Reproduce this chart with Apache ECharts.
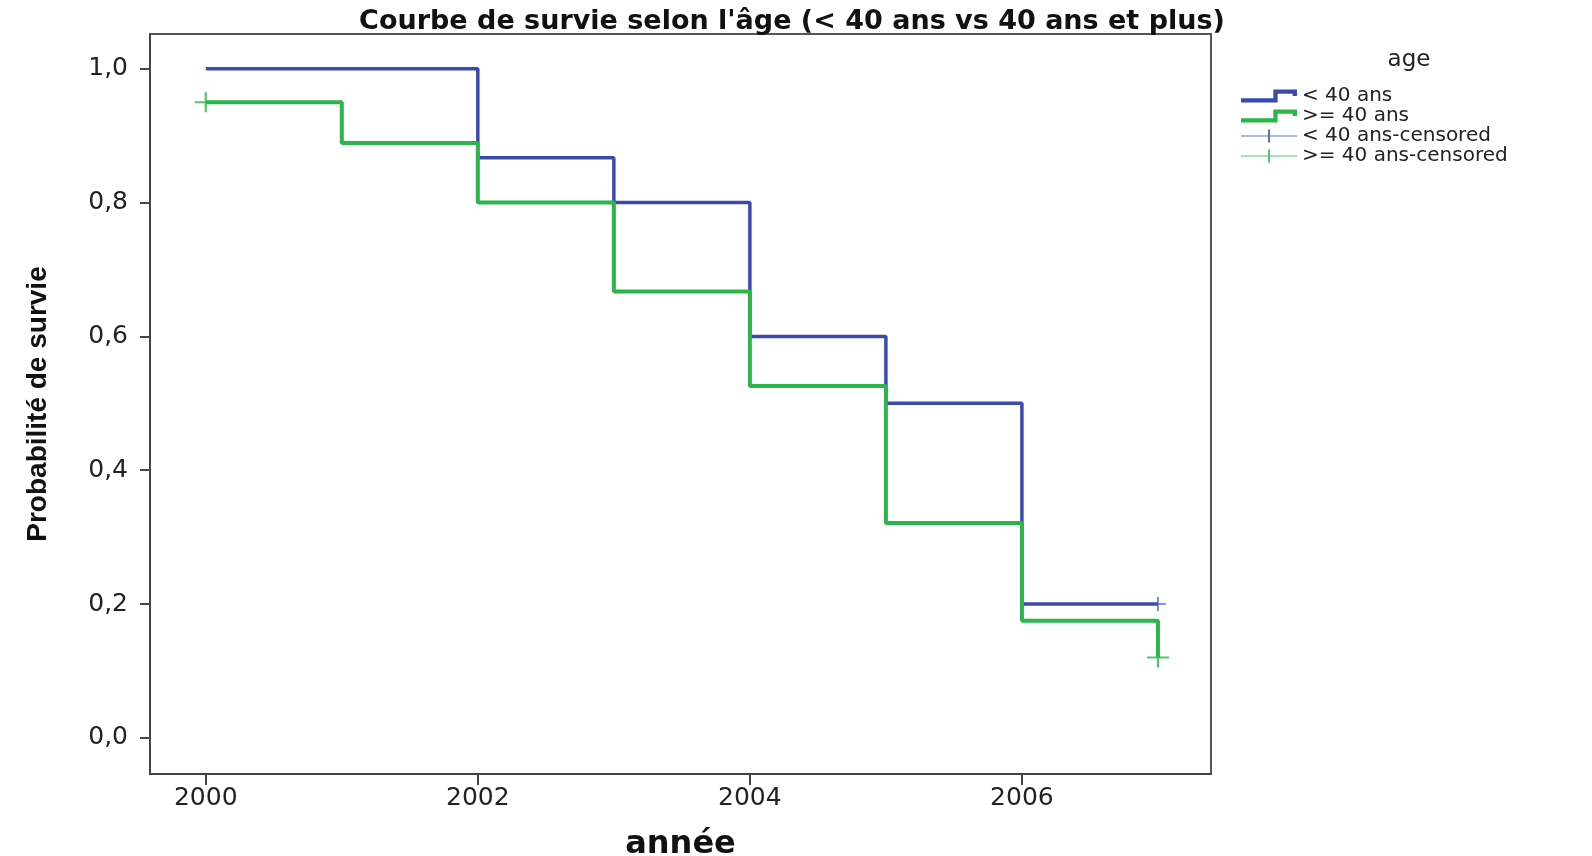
<!DOCTYPE html>
<html><head><meta charset="utf-8">
<script src="https://cdn.jsdelivr.net/npm/echarts@6/dist/echarts.min.js"></script>
<style>html,body{margin:0;padding:0;background:#fff}#c{width:1592px;height:856px}</style>
</head><body><div id="c"></div>
<script>
const titleText = "Courbe de survie selon l'âge (< 40 ans vs 40 ans et plus)";
const legendTitle = "age";
const seriesNames = ["< 40 ans", ">= 40 ans", "< 40 ans-censored", ">= 40 ans-censored"];
const blueYears = [2000, 2002, 2003, 2004, 2005, 2006, 2007];
const blueSurv  = [1.0, 0.867, 0.80, 0.60, 0.50, 0.20, 0.20];
const greenYears = [2000, 2001, 2002, 2003, 2004, 2005, 2006, 2007];
const greenSurv  = [0.95, 0.889, 0.80, 0.667, 0.526, 0.321, 0.175, 0.12];
const blueCensYears = [2007];
const blueCensSurv = [0.20];
const greenCensYears = [2000, 2007];
const greenCensSurv = [0.95, 0.12];
const xTicks = [2000, 2002, 2004, 2006];
const yTicks = [0, 0.2, 0.4, 0.6, 0.8, 1.0];
const xName = "année";
const yName = "Probabilité de survie";

const BLUE = '#3b4bad', GREEN = '#2bb54b';
const zip = (a, b) => a.map((v, i) => [v, b[i]]);
const crossSym = 'path://M0,9 H20 V11 H0 Z M9,0 H11 V20 H9 Z';
const stepIcon = 'path://M0,11 H30 V3 H52 V9 H48 V7 H34 V15 H0 Z';
const censIcon = 'path://M0,9 H56 V10 H0 Z M27,3 H29 V16 H27 Z';

const chart = echarts.init(document.getElementById('c'));
chart.setOption({
  backgroundColor: '#fff',
  animation: false,
  title: [
    { text: titleText, left: 787, top: 3, textAlign: 'center',
      textStyle: { fontFamily: 'DejaVu Sans', fontWeight: 'bold', fontSize: 27, color: '#111' } },
    { text: legendTitle, left: 1404, top: 44, textAlign: 'center',
      textStyle: { fontFamily: 'DejaVu Sans', fontWeight: 'normal', fontSize: 23, color: '#222' } }
  ],
  legend: {
    orient: 'vertical', left: 1236, top: 81, itemGap: 0, itemWidth: 56, itemHeight: 18,
    textStyle: { fontFamily: 'DejaVu Sans', fontSize: 20, lineHeight: 20, color: '#222' },
    data: [
      { name: seriesNames[0], icon: stepIcon, itemStyle: { color: BLUE } },
      { name: seriesNames[1], icon: stepIcon, itemStyle: { color: GREEN } },
      { name: seriesNames[2], icon: censIcon, itemStyle: { color: BLUE } },
      { name: seriesNames[3], icon: censIcon, itemStyle: { color: GREEN } }
    ]
  },
  grid: { left: 150, right: 381, top: 34, bottom: 82, outerBoundsMode: 'none', containLabel: false,
    show: true, borderColor: '#555', borderWidth: 2 },
  xAxis: {
    type: 'value', min: 1999.59, max: 2007.39,
    name: xName, nameLocation: 'middle', nameGap: 55,
    nameTextStyle: { fontFamily: 'DejaVu Sans', fontWeight: 'bold', fontSize: 32, color: '#111' },
    axisLine: { show: true, onZero: false, lineStyle: { color: '#444', width: 2 } },
    axisTick: { show: true, length: 11, customValues: xTicks, lineStyle: { color: '#444', width: 2 } },
    axisLabel: { customValues: xTicks, margin: 12, fontFamily: 'DejaVu Sans', fontSize: 25, color: '#222',
      formatter: v => String(v) },
    splitLine: { show: false }
  },
  yAxis: {
    type: 'value', min: -0.054, max: 1.052,
    name: yName, nameLocation: 'middle', nameGap: 98, nameRotate: 90,
    nameTextStyle: { fontFamily: "'Liberation Sans Narrow', 'Arial Narrow', sans-serif", fontWeight: 'bold', fontSize: 28, color: '#111' },
    axisLine: { show: true, onZero: false, lineStyle: { color: '#444', width: 2 } },
    axisTick: { show: true, length: 10, customValues: yTicks, lineStyle: { color: '#444', width: 2 } },
    axisLabel: { customValues: yTicks, margin: 22, fontFamily: 'DejaVu Sans', fontSize: 25, color: '#222',
      formatter: v => v.toFixed(1).replace('.', ',') },
    splitLine: { show: false }
  },
  series: [
    { name: seriesNames[0], type: 'line', step: 'end', data: zip(blueYears, blueSurv),
      symbol: 'none', lineStyle: { color: BLUE, width: 3.5 }, itemStyle: { color: BLUE } },
    { name: seriesNames[1], type: 'line', step: 'end', data: zip(greenYears, greenSurv),
      symbol: 'none', lineStyle: { color: GREEN, width: 4 }, itemStyle: { color: GREEN } },
    { name: seriesNames[2], type: 'scatter', data: zip(blueCensYears, blueCensSurv),
      symbol: crossSym, symbolSize: [16, 14], itemStyle: { color: BLUE } },
    { name: seriesNames[3], type: 'scatter', data: zip(greenCensYears, greenCensSurv),
      symbol: crossSym, symbolSize: [22, 20], itemStyle: { color: GREEN } }
  ]
});
</script></body></html>
